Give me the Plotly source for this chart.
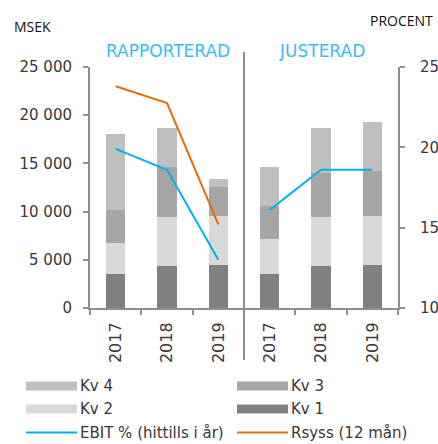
import plotly.graph_objects as go

# ---- data ----
years = ["2017", "2018", "2019"]
groups = ["R", "J"]  # Rapporterad, Justerad
categories = [g + y for g in groups for y in years]

kv1 = [3500, 4330, 4510, 3500, 4330, 4510]
kv2 = [3250, 5090, 5045, 3670, 5060, 5045]
kv3 = [3430, 5190, 3015, 3390, 4630, 4675]
kv4 = [7860, 4050, 830, 4050, 4640, 5030]

ebit_rapporterad = [19.9, 18.6, 13.0]
ebit_justerad = [16.1, 18.6, 18.6]
rsyss_rapporterad = [23.8, 22.75, 15.2]

series_names = ["Kv 1", "Kv 2", "Kv 3", "Kv 4"]
bar_colors = {"Kv 1": "#808080", "Kv 2": "#d9d9d9", "Kv 3": "#a6a6a6", "Kv 4": "#bfbfbf"}
ebit_color = "#00b0f0"
rsyss_color = "#e46c0a"
label_color = "#38bdf0"
text_color = "#383838"
axis_color = "#8f8f8f"

W, H = 438, 444
ML, MR, MT, MB = 90, 40, 67, 136
PW, PH = W - ML - MR, H - MT - MB


def px(xp):
    return (xp - ML) / PW


def py(yp):
    return (H - MB - yp) / PH


fig = go.Figure()
for name, vals in zip(series_names, [kv1, kv2, kv3, kv4]):
    fig.add_trace(go.Bar(x=categories, y=vals, name=name,
                         marker=dict(color=bar_colors[name], line=dict(width=0)),
                         showlegend=False, hoverinfo="skip"))

fig.add_trace(go.Scatter(x=categories[:3], y=ebit_rapporterad, yaxis="y2", mode="lines",
                         line=dict(color=ebit_color, width=2), showlegend=False))
fig.add_trace(go.Scatter(x=categories[3:], y=ebit_justerad, yaxis="y2", mode="lines",
                         line=dict(color=ebit_color, width=2), showlegend=False))
fig.add_trace(go.Scatter(x=categories[:3], y=rsyss_rapporterad, yaxis="y2", mode="lines",
                         line=dict(color=rsyss_color, width=2), showlegend=False))

tickfont = dict(family="DejaVu Sans", size=15, color=text_color)
xtickfont = dict(family="DejaVu Sans", size=16, color=text_color)

fig.update_layout(
    width=W, height=H, autosize=False,
    margin=dict(l=ML, r=MR, t=MT, b=MB, pad=0, autoexpand=False),
    paper_bgcolor="white", plot_bgcolor="white",
    barmode="stack", bargap=0.62,
    separators=", ",
    showlegend=False,
    xaxis=dict(type="category", categoryorder="array", categoryarray=categories,
               tickvals=categories, ticktext=years * 2, tickangle=-90,
               tickson="boundaries", ticks="outside", ticklen=5, tickwidth=1.5,
               tickcolor=axis_color, showline=True, linecolor=axis_color, linewidth=2,
               showgrid=False, zeroline=False, tickfont=xtickfont, range=[-0.5, 5.5],
               ticklabelstandoff=6, automargin=False),
    yaxis=dict(range=[0, 25000], dtick=5000, tickformat=",d", ticks="outside",
               ticklen=5, tickwidth=1.5, tickcolor=axis_color, showline=True,
               linecolor=axis_color, linewidth=2, showgrid=False, zeroline=False,
               tickfont=tickfont, ticklabelstandoff=8, automargin=False),
    yaxis2=dict(range=[10, 25], dtick=5, overlaying="y", side="right", anchor="x",
                ticks="outside", ticklen=5, tickwidth=1.5, tickcolor=axis_color,
                showline=True, linecolor=axis_color, linewidth=2, showgrid=False,
                zeroline=False, tickfont=tickfont, ticklabelstandoff=12, automargin=False),
)

# separator between Rapporterad and Justerad
fig.add_shape(type="line", xref="x", yref="paper", x0=2.5, x1=2.5,
              y0=py(360), y1=py(52), line=dict(color=axis_color, width=2))

annotations = [
    dict(text="MSEK", x=px(12), y=py(27), xanchor="left", yanchor="middle",
         font=dict(family="Open Sans", size=14, color="#111111")),
    dict(text="PROCENT", x=px(435), y=py(20), xanchor="right", yanchor="middle",
         font=dict(family="Open Sans", size=14, color="#111111")),
    dict(text="RAPPORTERAD", x=px(168), y=py(51), xanchor="center", yanchor="middle",
         font=dict(family="DejaVu Sans", size=17, color=label_color)),
    dict(text="JUSTERAD", x=px(322), y=py(51), xanchor="center", yanchor="middle",
         font=dict(family="DejaVu Sans", size=17, color=label_color)),
]

# manual two-column legend
legend_items = [("Kv 4", bar_colors["Kv 4"], "bar"), ("Kv 3", bar_colors["Kv 3"], "bar"),
                ("Kv 2", bar_colors["Kv 2"], "bar"), ("Kv 1", bar_colors["Kv 1"], "bar"),
                ("EBIT % (hittills i år)", ebit_color, "line"), ("Rsyss (12 mån)", rsyss_color, "line")]
col_x = [26, 237]
row_y = [386, 409, 432.5]
for i, (name, color, kind) in enumerate(legend_items):
    cx = col_x[i % 2]
    ry = row_y[i // 2]
    if kind == "bar":
        fig.add_shape(type="rect", xref="paper", yref="paper",
                      x0=px(cx), x1=px(cx + 51), y0=py(ry + 4.5), y1=py(ry - 4.5),
                      fillcolor=color, line=dict(width=0))
    else:
        fig.add_shape(type="line", xref="paper", yref="paper",
                      x0=px(cx), x1=px(cx + 51), y0=py(ry), y1=py(ry),
                      line=dict(color=color, width=2))
    annotations.append(dict(text=name, x=px(cx + 52), y=py(ry), xanchor="left",
                            yanchor="middle", font=dict(family="DejaVu Sans", size=15, color=text_color)))

for a in annotations:
    a.update(xref="paper", yref="paper", showarrow=False)
fig.update_layout(annotations=annotations)

fig.write_html("out.html", config={"displayModeBar": False},
               post_script="document.body.style.margin='0';document.body.style.padding='0';document.body.style.overflow='hidden';")
